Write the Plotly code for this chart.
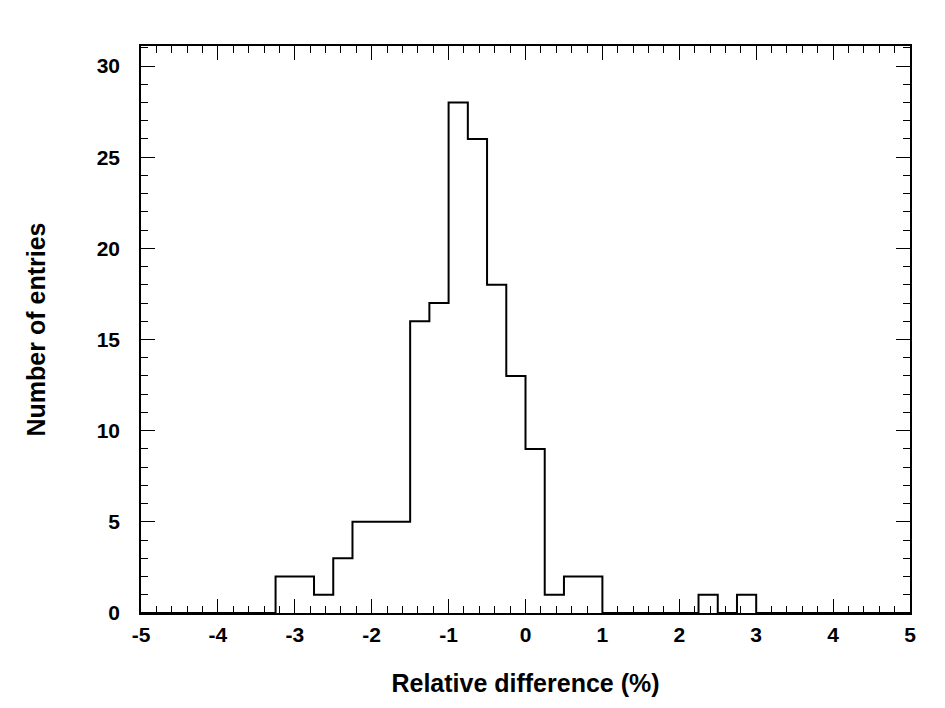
import plotly.graph_objects as go

# histogram of relative differences, bins of 0.25 from -5 to 5
bin_edges = [-5 + 0.25 * i for i in range(41)]
counts = [0, 0, 0, 0, 0, 0, 0, 2, 2, 1,
          3, 5, 5, 5, 16, 17, 28, 26, 18, 13,
          9, 1, 2, 2, 0, 0, 0, 0, 0, 1,
          0, 1, 0, 0, 0, 0, 0, 0, 0, 0]

x_ticks = [-5, -4, -3, -2, -1, 0, 1, 2, 3, 4, 5]
y_ticks = [0, 5, 10, 15, 20, 25, 30]

font_name = "Liberation Sans"

fig = go.Figure()
fig.add_trace(go.Scatter(
    x=bin_edges,
    y=counts + [counts[-1]],
    mode="lines",
    line=dict(shape="hv", color="black", width=2),
    showlegend=False,
    hoverinfo="skip",
))

axis_common = dict(
    showline=True, linecolor="black", linewidth=1.5, mirror="ticks",
    ticks="inside", ticklen=14, tickwidth=1, tickcolor="black",
    showgrid=False, zeroline=False,
    tickfont=dict(family=font_name, size=21, color="black", weight="bold"),
)

fig.update_xaxes(
    range=[-5, 5], tickvals=x_ticks,
    ticktext=[str(v) for v in x_ticks],
    ticklabelstandoff=2,
    minor=dict(dtick=0.2, ticks="inside", ticklen=7, tickcolor="black", tickwidth=1),
    title=dict(text="Relative difference (%)",
               font=dict(family=font_name, size=25, color="black", weight="bold"),
               standoff=30),
    **axis_common,
)
fig.update_yaxes(
    range=[0, 31.1], tickvals=y_ticks,
    ticktext=[str(v) for v in y_ticks],
    ticklabelstandoff=15,
    minor=dict(dtick=1, ticks="inside", ticklen=7, tickcolor="black", tickwidth=1),
    title=dict(text="Number of entries",
               font=dict(family=font_name, size=25, color="black", weight="bold"),
               standoff=44),
    **axis_common,
)

# the page body adds an 8px offset, so margins are trimmed to match
fig.update_layout(
    width=937, height=700,
    margin=dict(l=133, r=35, t=38, b=95),
    paper_bgcolor="white", plot_bgcolor="white",
    font=dict(family=font_name, color="black"),
)

fig.write_html("out.html")
